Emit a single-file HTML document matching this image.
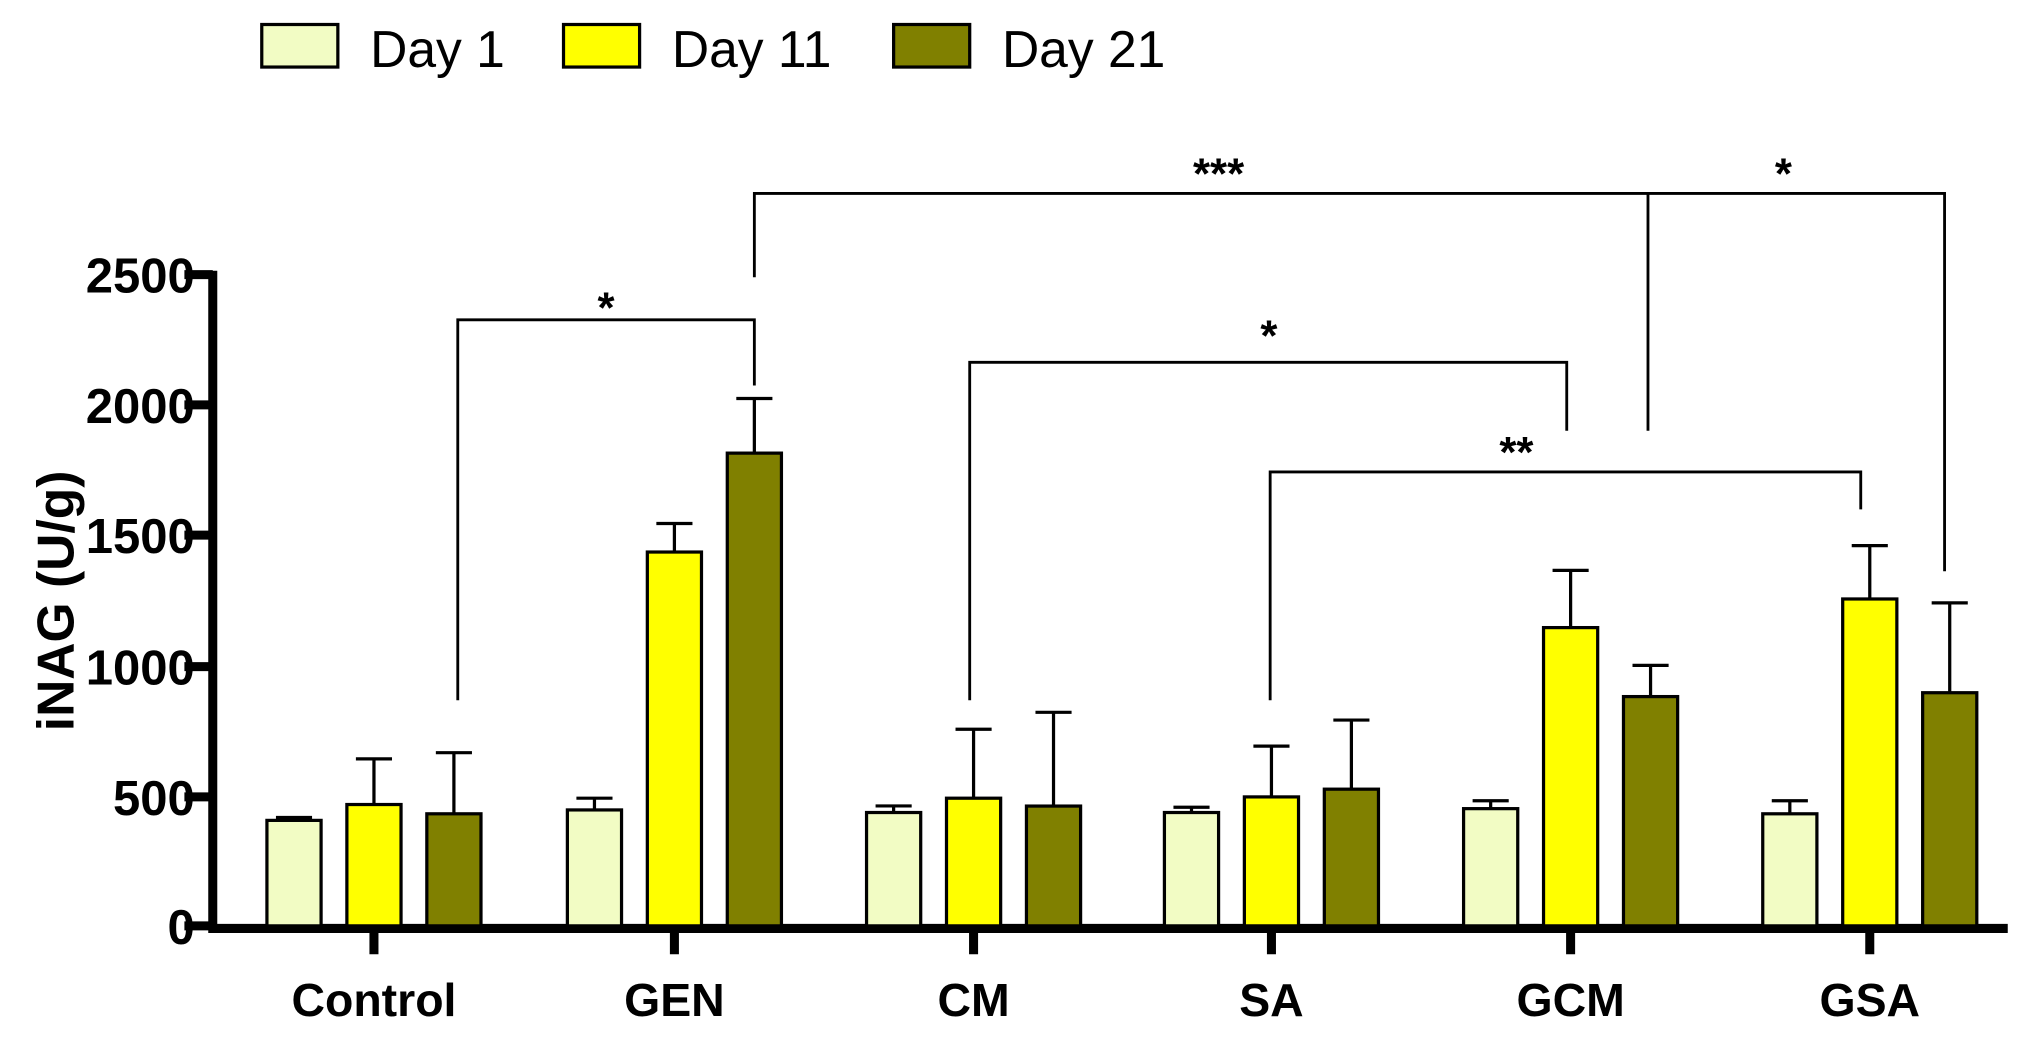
<!DOCTYPE html>
<html><head><style>body{margin:0;background:#fff}</style></head><body>
<svg width="2022" height="1036" xmlns="http://www.w3.org/2000/svg" font-family="Liberation Sans, Arial, sans-serif">
<rect width="2022" height="1036" fill="#fff"/>
<g transform="scale(1.2895)">
<g stroke="#000" stroke-width="2.5">
<rect x="203" y="19" width="59" height="33" fill="#f2fcc4"/>
<rect x="437" y="19" width="59" height="33" fill="#ffff00"/>
<rect x="693" y="19" width="59" height="33" fill="#808000"/>
</g>
<g font-size="40" fill="#000">
<text x="287" y="52">Day 1</text>
<text x="521" y="52">Day 11</text>
<text x="777" y="52">Day 21</text>
</g>
<g stroke="#000" stroke-width="7" fill="none">
<path d="M165,210 V720 H1557"/>
<path d="M143,213 H165 M143,314 H165 M143,415 H165 M143,517 H165 M143,618 H165 M143,718 H165"/>
<path d="M290,718 V740 M523,718 V740 M755,718 V740 M986,718 V740 M1218,718 V740 M1450,718 V740"/>
</g>
<g font-size="38" font-weight="bold" text-anchor="end">
<text x="151" y="227">2500</text>
<text x="151" y="328">2000</text>
<text x="151" y="429">1500</text>
<text x="151" y="531">1000</text>
<text x="151" y="632">500</text>
<text x="151" y="732">0</text>
</g>
<g font-size="36" font-weight="bold" text-anchor="middle">
<text x="290" y="788">Control</text>
<text x="523" y="788">GEN</text>
<text x="755" y="788">CM</text>
<text x="986" y="788">SA</text>
<text x="1218" y="788">GCM</text>
<text x="1450" y="788">GSA</text>
</g>
<text transform="translate(57,466) rotate(-90)" font-size="40" font-weight="bold" text-anchor="middle">iNAG (U/g)</text>
<g stroke="#000" stroke-width="2.5">
<path d="M228,636 V634 M214,634 H242 M290,624 V588.5 M276,588.5 H304 M352,631 V583.7 M338,583.7 H366
M461,628 V619 M447,619 H475 M523,428 V406 M509,406 H537 M585,351 V309 M571,309 H599
M693,630 V625 M679,625 H707 M755,619 V565.5 M741,565.5 H769 M817,625 V552.4 M803,552.4 H831
M924,630 V626 M910,626 H938 M986,618 V578.6 M972,578.6 H1000 M1048,612 V558.4 M1034,558.4 H1062
M1156,627 V621 M1142,621 H1170 M1218,487 V442.3 M1204,442.3 H1232 M1280,540 V516 M1266,516 H1294
M1388,631 V621 M1374,621 H1402 M1450,464.5 V423.1 M1436,423.1 H1464 M1512,537 V467.5 M1498,467.5 H1526"/>
<g fill="#f2fcc4">
<rect x="207" y="636.2" width="42" height="81.8"/>
<rect x="440" y="628.1" width="42" height="89.9"/>
<rect x="672" y="630.1" width="42" height="87.9"/>
<rect x="903" y="630.1" width="42" height="87.9"/>
<rect x="1135" y="627.1" width="42" height="90.9"/>
<rect x="1367" y="631.1" width="42" height="86.9"/>
</g>
<g fill="#ffff00">
<rect x="269" y="623.9" width="42" height="94.1"/>
<rect x="502" y="428.1" width="42" height="289.9"/>
<rect x="734" y="619" width="42" height="99"/>
<rect x="965" y="618" width="42" height="100"/>
<rect x="1197" y="486.7" width="42" height="231.3"/>
<rect x="1429" y="464.5" width="42" height="253.5"/>
</g>
<g fill="#808000">
<rect x="331" y="631.1" width="42" height="86.9"/>
<rect x="564" y="351.4" width="42" height="366.6"/>
<rect x="796" y="625.1" width="42" height="92.9"/>
<rect x="1027" y="612" width="42" height="106"/>
<rect x="1259" y="540.2" width="42" height="177.8"/>
<rect x="1491" y="537.2" width="42" height="180.8"/>
</g>
</g>
<g stroke="#000" stroke-width="2.2" fill="none">
<path d="M355,543 V248 H585 V299"/>
<path d="M585,215 V150 H1508 V443 M1278,150 V334"/>
<path d="M752,543 V281 H1215 V334"/>
<path d="M985,543 V366 H1443 V395"/>
</g>
<g font-size="34" font-weight="bold" text-anchor="middle">
<text x="470" y="250">*</text>
<text x="945" y="146">***</text>
<text x="1383" y="146">*</text>
<text x="984" y="272">*</text>
<text x="1176" y="362">**</text>
</g>
</g>
</svg>
</body></html>
